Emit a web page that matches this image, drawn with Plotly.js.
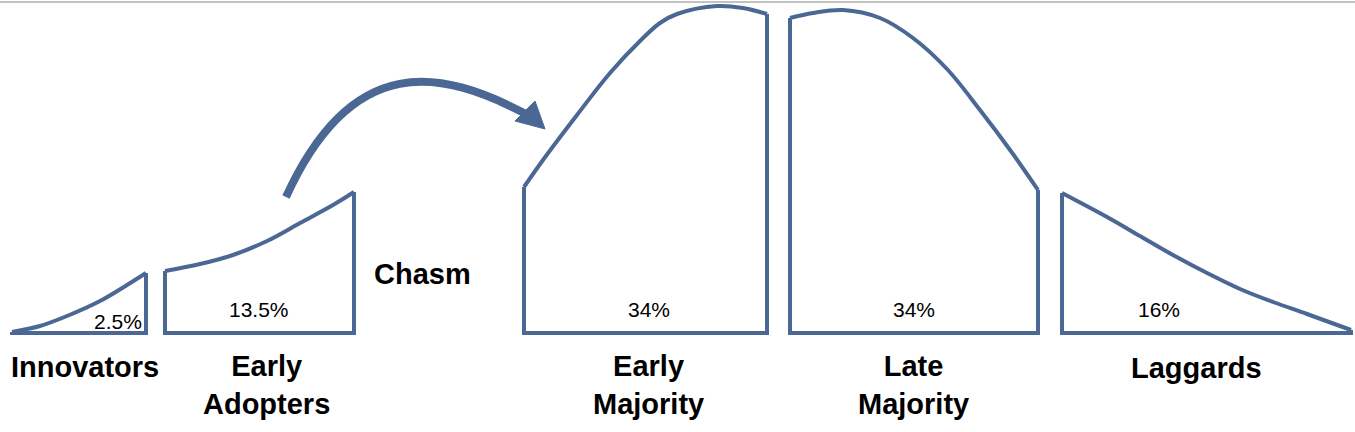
<!DOCTYPE html>
<html>
<head>
<meta charset="utf-8">
<script src="https://cdn.plot.ly/plotly-3.0.1.min.js"></script>
<style>html,body{margin:0;padding:0;background:#fff;}#chart{width:1355px;height:432px;}</style>
</head>
<body>
<div id="chart"></div>
<script>
// ---- data (x: position along adoption axis, y: curve height above baseline) ----
const segmentNames = ['Innovators', 'Early<br>Adopters', 'Early<br>Majority', 'Late<br>Majority', 'Laggards'];
const segmentShares = ['2.5%', '13.5%', '34%', '34%', '16%'];

const innovatorsX = [12, 40, 67, 100, 127, 146];
const innovatorsY = [1, 7, 17, 32, 48, 60];

const earlyAdoptersX = [165, 200, 233, 267, 300, 333, 354];
const earlyAdoptersY = [62, 69, 78, 92, 110, 128, 141];

const earlyMajorityX = [524, 543, 577, 610, 643, 660, 677, 717, 743, 767];
const earlyMajorityY = [146, 173, 218, 260, 295, 310, 319, 327, 325, 319];

const lateMajorityX = [790, 813, 843, 880, 913, 947, 980, 1013, 1038];
const lateMajorityY = [315, 320, 323, 315, 295, 264, 223, 179, 143];

const laggardsX = [1062, 1107, 1140, 1173, 1207, 1240, 1273, 1307, 1351];
const laggardsY = [140, 116, 97, 78, 60, 44, 31, 19, 3];

// chasm arrow: cubic Bezier control points of the shaft, and the head triangle
const chasmArcX = [286, 353, 442, 526];
const chasmArcY = [136, 283, 263, 219];
const chasmHeadX = [545, 515, 535];
const chasmHeadY = [204, 212, 232];

// ---- styles / label placement ----
const blue = '#4b6895';
const fontFam = 'Liberation Sans, Arial, sans-serif';
const nameLabelPos = [[85, -34], [266, -52], [648, -52], [913, -52], [1196, -35]];
const shareLabelPos = [[118, 12], [259, 24], [649, 24], [914, 24], [1159, 24]];

const curves = [
  [innovatorsX, innovatorsY],
  [earlyAdoptersX, earlyAdoptersY],
  [earlyMajorityX, earlyMajorityY],
  [lateMajorityX, lateMajorityY],
  [laggardsX, laggardsY]
];

const traces = [];
curves.forEach(([xs, ys]) => {
  const first = xs[0], last = xs[xs.length - 1];
  traces.push({
    x: xs, y: ys, type: 'scatter', mode: 'lines',
    line: {color: blue, width: 4, shape: 'spline', smoothing: 1},
    hoverinfo: 'skip', showlegend: false
  });
  traces.push({
    x: [last, last, first, first], y: [ys[ys.length - 1], 0, 0, ys[0]],
    type: 'scatter', mode: 'lines',
    line: {color: blue, width: 4},
    hoverinfo: 'skip', showlegend: false
  });
});

// arrow head
traces.push({
  x: chasmHeadX.concat([chasmHeadX[0]]), y: chasmHeadY.concat([chasmHeadY[0]]),
  type: 'scatter', mode: 'lines',
  fill: 'toself', fillcolor: blue,
  line: {color: blue, width: 1},
  hoverinfo: 'skip', showlegend: false
});

const arcPath = 'M' + chasmArcX[0] + ',' + chasmArcY[0] +
  ' C' + chasmArcX[1] + ',' + chasmArcY[1] + ' ' +
  chasmArcX[2] + ',' + chasmArcY[2] + ' ' +
  chasmArcX[3] + ',' + chasmArcY[3];

const annotations = [];
segmentNames.forEach((name, i) => {
  annotations.push({
    x: nameLabelPos[i][0], y: nameLabelPos[i][1], xref: 'x', yref: 'y',
    text: '<b>' + name + '</b>', showarrow: false,
    xanchor: 'center', yanchor: 'middle',
    font: {family: fontFam, size: 29, color: '#000'}
  });
});
segmentShares.forEach((s, i) => {
  annotations.push({
    x: shareLabelPos[i][0], y: shareLabelPos[i][1], xref: 'x', yref: 'y',
    text: s, showarrow: false, xanchor: 'center', yanchor: 'middle',
    font: {family: fontFam, size: 21, color: '#000'}
  });
});
annotations.push({
  x: 422, y: 59, xref: 'x', yref: 'y', text: '<b>Chasm</b>', showarrow: false,
  xanchor: 'center', yanchor: 'middle',
  font: {family: fontFam, size: 29, color: '#000'}
});

const layout = {
  width: 1355, height: 432,
  margin: {l: 0, r: 0, t: 0, b: 0},
  paper_bgcolor: '#fff', plot_bgcolor: '#fff',
  xaxis: {range: [0, 1355], visible: false, fixedrange: true},
  yaxis: {range: [-99, 333], visible: false, fixedrange: true},
  showlegend: false,
  hovermode: false,
  annotations: annotations,
  shapes: [
    {type: 'path', xref: 'x', yref: 'y', path: arcPath,
     line: {color: blue, width: 8}, fillcolor: 'rgba(0,0,0,0)', layer: 'above'},
    {type: 'line', xref: 'paper', yref: 'paper', x0: 0, x1: 1, y0: 1 - 2/432, y1: 1 - 2/432,
     line: {color: '#c2c2c2', width: 2}}
  ]
};

Plotly.newPlot('chart', traces, layout, {displayModeBar: false, staticPlot: true});
</script>
</body>
</html>
